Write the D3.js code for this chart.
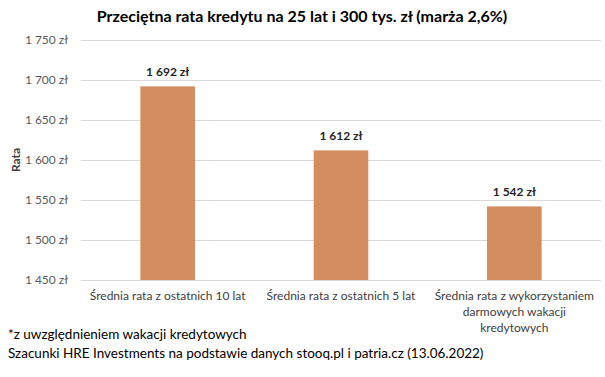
<!DOCTYPE html>
<html><head><meta charset="utf-8">
<script src="https://cdn.jsdelivr.net/npm/d3@7"></script>
<style>body{margin:0;background:#fff}svg{display:block}text{font-family:Lato,"Open Sans",sans-serif}</style>
</head><body>
<svg id="c" width="605" height="377"></svg>
<script>
const categories = [
  ["Średnia rata z ostatnich 10 lat"],
  ["Średnia rata z ostatnich 5 lat"],
  ["Średnia rata z wykorzystaniem", "darmowych wakacji", "kredytowych"]
];
const values = [1692, 1612, 1542];
const yTicks = [1450, 1500, 1550, 1600, 1650, 1700, 1750];
const title = "Przeciętna rata kredytu na 25 lat i 300 tys. zł (marża 2,6%)";
const yLabel = "Rata";
const notes = ["*z uwzględnieniem wakacji kredytowych",
  "Szacunki HRE Investments na podstawie danych stooq.pl i patria.cz (13.06.2022)"];

const fmt = v => d3.format(",")(v).replace(/,/g, " ") + " zł";
const svg = d3.select("#c");
const x = d3.scaleBand().domain(d3.range(values.length)).range([81, 601]).paddingInner(0.685).paddingOuter(0.3425);
const y = d3.scaleLinear().domain([1450, 1750]).range([280, 40]);

svg.append("g").selectAll("line").data(yTicks).join("line")
  .attr("x1", 81).attr("x2", 601).attr("y1", d => y(d) + 0.5).attr("y2", d => y(d) + 0.5)
  .attr("stroke", "#d9d9d9").attr("stroke-width", 1);

const ya = svg.append("g").attr("transform", "translate(81,0)")
  .call(d3.axisLeft(y).tickValues(yTicks).tickFormat(fmt).tickSize(0).tickPadding(13));
ya.select(".domain").remove();
ya.selectAll("text").attr("font-family", "Lato").attr("font-size", 12).attr("fill", "#595959");

svg.append("g").selectAll("rect").data(values).join("rect")
  .attr("x", (d, i) => x(i)).attr("width", x.bandwidth())
  .attr("y", d => y(d)).attr("height", d => y(1450) - y(d))
  .attr("fill", "#d38d5f");

svg.append("g").selectAll("text").data(values).join("text")
  .attr("x", (d, i) => x(i) + x.bandwidth() / 2).attr("y", d => y(d) - 10)
  .attr("text-anchor", "middle").attr("font-size", 12).attr("font-weight", "bold").attr("fill", "#262626")
  .text(fmt);

const xl = svg.append("g").selectAll("text").data(categories).join("text")
  .attr("text-anchor", "middle").attr("font-size", 12).attr("fill", "#404040")
  .attr("transform", (d, i) => `translate(${x(i) + x.bandwidth() / 2},300)`);
xl.selectAll("tspan").data(d => d).join("tspan")
  .attr("x", 0).attr("y", (d, i) => i * 16).text(d => d);

svg.append("text").attr("x", 302).attr("y", 22).attr("text-anchor", "middle")
  .attr("font-size", 16).attr("font-weight", "bold").attr("fill", "#000").text(title);

svg.append("text").attr("transform", "translate(20,160) rotate(-90)").attr("text-anchor", "middle")
  .attr("font-size", 12).attr("font-weight", "bold").attr("fill", "#404040").text(yLabel);

svg.append("g").selectAll("text").data(notes).join("text")
  .attr("x", 8).attr("y", (d, i) => 339 + i * 18.5).attr("font-size", 13.5).attr("fill", "#000").text(d => d);
</script>
</body></html>
